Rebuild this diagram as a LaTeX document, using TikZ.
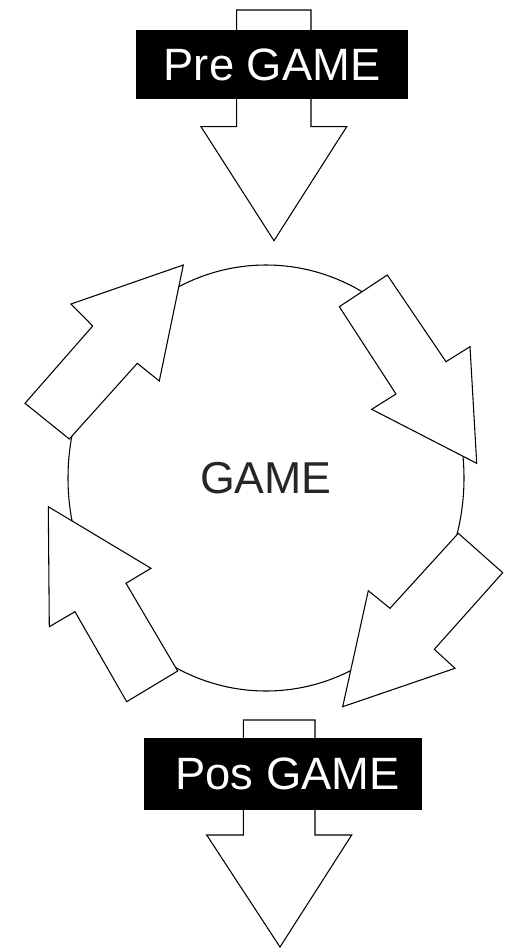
\documentclass[tikz,border=0pt]{standalone}
\usepackage{fontspec}
\setmainfont{Liberation Sans}
\usetikzlibrary{shapes.geometric}

\tikzset{
  blockarrow/.style={draw=black, fill=white, line width=0.8pt, line join=miter},
  labelbox/.style={fill=black, text=white, inner sep=0pt, font=\fontsize{34}{40}\selectfont},
  gamering/.style={ellipse, draw=black, line width=0.8pt, inner sep=0pt, text=black!85, font=\fontsize{33.5}{40}\selectfont}
}

\begin{document}
\begin{tikzpicture}[x=0.75pt,y=0.75pt,yscale=-1,xscale=1]
\useasboundingbox (0,0) rectangle (505,950);

%Shape: Ellipse [id:game]
\node (game) [gamering, minimum width=297pt, minimum height=319.5pt] at (266,478) {GAME};

%Shape: Block arrow, top
\draw [blockarrow] (236.7,10) -- (311,10) -- (311,126.7) -- (346.7,126.7) -- (274,240.7) -- (201,126.7) -- (236.7,126.7) -- cycle;
%Shape: Block arrow, bottom
\draw [blockarrow] (243.3,720) -- (315,720) -- (315,835) -- (351.7,835) -- (280,947) -- (206.7,835) -- (243.3,835) -- cycle;

%Shape: Block arrow, upper left
\draw [blockarrow] (25,403.3) -- (92.7,326) -- (71,304) -- (183.3,265) -- (159.3,381) -- (137.3,363.3) -- (69.3,439) -- cycle;
%Shape: Block arrow, upper right
\draw [blockarrow] (339.3,306.7) -- (387.3,275) -- (446,361.7) -- (470,346.7) -- (476.7,463.3) -- (371.7,409.3) -- (396,394) -- cycle;
%Shape: Block arrow, lower right
\draw [blockarrow] (458.3,533.3) -- (502.7,572.7) -- (434.3,649.3) -- (455,668.3) -- (342.7,706.7) -- (368.3,590.7) -- (390,608.3) -- cycle;
%Shape: Block arrow, lower left
\draw [blockarrow] (126.7,701.7) -- (177.7,671) -- (126,583.3) -- (151,568.3) -- (48.3,506.7) -- (49.3,626.7) -- (75,611.7) -- cycle;

% Text Node
\node (pre) [labelbox, minimum width=204.5pt, minimum height=52pt] at (272,64.7) {Pre GAME\hspace{7pt}};
% Text Node
\node (pos) [labelbox, minimum width=208.3pt, minimum height=53.8pt] at (282.8,774.2) {\hspace{7pt}Pos GAME};

\end{tikzpicture}
\end{document}
